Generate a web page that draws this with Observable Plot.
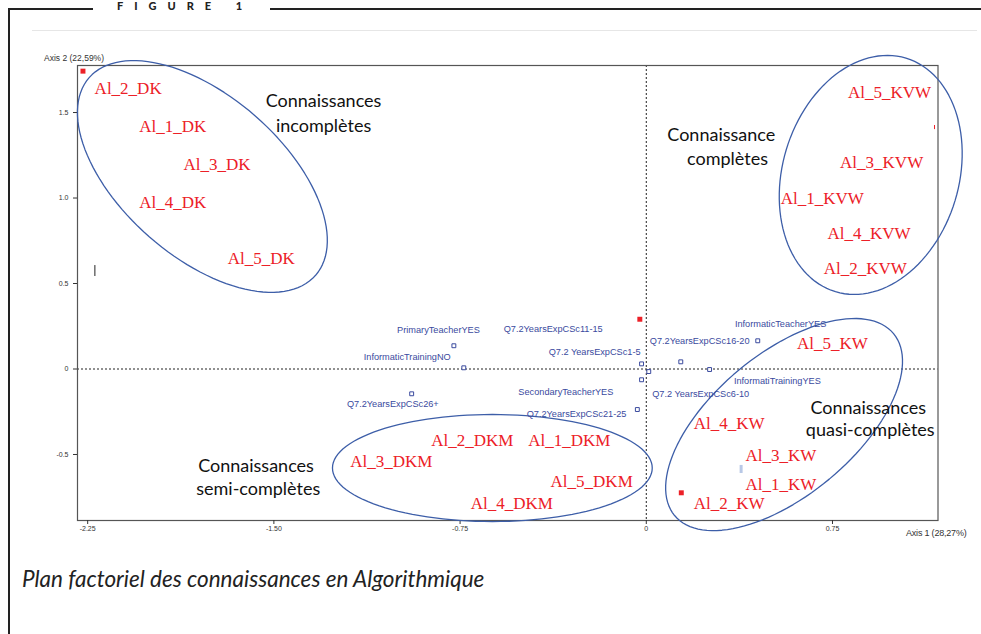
<!DOCTYPE html>
<html>
<head>
<meta charset="utf-8">
<script src="https://cdn.jsdelivr.net/npm/d3@7"></script>
<script src="https://cdn.jsdelivr.net/npm/@observablehq/plot@0.6"></script>
<style>
  body { margin: 0; background: #fff; }
  #wrap { position: relative; width: 981px; height: 634px; overflow: hidden; background: #fff; }
  #wrap svg { position: absolute; left: 0; top: 0; }
  .abs { position: absolute; white-space: nowrap; }
  #wrap g[aria-label="sup"] text { letter-spacing: -0.35px; }
</style>
</head>
<body>
<div id="wrap">
  <div class="abs" style="left:9px;top:8px;width:84px;height:1.6px;background:#222"></div>
  <div class="abs" style="left:270px;top:8px;width:711px;height:1.6px;background:#222"></div>
  <div class="abs" style="left:8px;top:8px;width:1.6px;height:626px;background:#222"></div>
  <div class="abs" style="left:32px;top:30px;width:945px;height:1px;background:#e6e6e6"></div>
  <div class="abs" style="left:117px;top:0px;font:900 11px/11px Lato, sans-serif;letter-spacing:11px;color:#222">FIGURE 1</div>
  <div class="abs" style="left:44px;top:53px;font:8.5px Arial, sans-serif;color:#333">Axis 2 (22,59%)</div>
  <div class="abs" style="left:906px;top:528px;font:9px Arial, sans-serif;color:#333;letter-spacing:-0.2px">Axis 1 (28,27%)</div>
  <div class="abs" style="left:22px;top:565px;font:italic 22.5px Lato, sans-serif;color:#222">Plan factoriel des connaissances en Algorithmique</div>
</div>
<script>
// Axis ticks
const xTicks = [-2.25, -1.5, -0.75, 0, 0.75];
const yTicks = [-0.5, 0, 0.5, 1.0, 1.5];

// Knowledge modalities (red labels)
const modNames = ["Al_2_DK","Al_1_DK","Al_3_DK","Al_4_DK","Al_5_DK",
  "Al_5_KVW","Al_3_KVW","Al_1_KVW","Al_4_KVW","Al_2_KVW",
  "Al_5_KW","Al_4_KW","Al_3_KW","Al_1_KW","Al_2_KW",
  "Al_2_DKM","Al_1_DKM","Al_3_DKM","Al_5_DKM","Al_4_DKM"];
const modX = [-2.087,-1.907,-1.729,-1.907,-1.551,
  0.980,0.948,0.709,0.897,0.882,
  0.750,0.334,0.542,0.542,0.334,
  -0.701,-0.310,-1.027,-0.220,-0.542];
const modY = [1.639,1.418,1.196,0.975,0.648,
  1.619,1.206,0.999,0.794,0.589,
  0.147,-0.320,-0.506,-0.675,-0.788,
  -0.418,-0.418,-0.539,-0.656,-0.788];

// Supplementary variables (blue labels)
const supNames = ["PrimaryTeacherYES","InformaticTrainingNO","Q7.2YearsExpCSc26+",
  "Q7.2YearsExpCSc11-15","Q7.2 YearsExpCSc1-5","SecondaryTeacherYES","Q7.2YearsExpCSc21-25",
  "Q7.2YearsExpCSc16-20","InformaticTeacherYES","InformatiTrainingYES","Q7.2 YearsExpCSc6-10"];
const supX = [-0.837,-0.963,-1.021,-0.375,-0.208,-0.324,-0.281,0.215,0.541,0.528,0.219];
const supY = [0.229,0.069,-0.204,0.235,0.102,-0.136,-0.264,0.163,0.264,-0.073,-0.149];

// Blue square markers
const markX = [-0.775,-0.735,-0.945,-0.019,0.010,-0.019,-0.036,0.139,0.255,0.449];
const markY = [0.136,0.007,-0.145,0.030,-0.015,-0.063,-0.237,0.042,-0.003,0.165];

// Red square points
const redX = [-2.269,-0.026,0.141];
const redY = [1.742,0.291,-0.724];

// Group annotations
const noteText = ["Connaissances","incomplètes","Connaissance","complètes",
  "Connaissances","quasi-complètes","Connaissances","semi-complètes"];
const noteX = [-1.300,-1.300,0.302,0.327,0.894,0.902,-1.572,-1.563];
const noteY = [1.564,1.418,1.365,1.229,-0.227,-0.360,-0.570,-0.706];

// Group ellipses: centre, first and second half-axis vectors (data units)
const ellName = ["incomplètes","complètes","quasi-complètes","semi-complètes"];
const ellCx = [-1.788,0.904,0.555,-0.620];
const ellCy = [1.126,1.135,-0.325,-0.579];
const ellAx = [0.456,0.142,0.441,0.644];
const ellAy = [-0.578,0.683,0.532,0];
const ellBx = [-0.213,0.340,0.182,0];
const ellBy = [-0.354,-0.149,-0.319,0.313];

const mods = modNames.map((n,i) => ({n, x: modX[i], y: modY[i]}));
const sups = supNames.map((n,i) => ({n, x: supX[i], y: supY[i]}));
const marks = markX.map((x,i) => ({x, y: markY[i]}));
const reds = redX.map((x,i) => ({x, y: redY[i]}));
const notes = noteText.map((t,i) => ({t, x: noteX[i], y: noteY[i]}));
const ellPts = [];
ellName.forEach((name,i) => {
  for (let a = 0; a <= 360; a += 3) {
    const r = a * Math.PI / 180;
    ellPts.push({name,
      x: ellCx[i] + ellAx[i]*Math.cos(r) + ellBx[i]*Math.sin(r),
      y: ellCy[i] + ellAy[i]*Math.cos(r) + ellBy[i]*Math.sin(r)});
  }
});

const blue = "#3a4a9e";
const red = "#ec2027";

const chart = Plot.plot({
  width: 981, height: 634,
  marginLeft: 77, marginRight: 43.5, marginTop: 65, marginBottom: 114,
  style: {background: "transparent", fontFamily: "Arial, sans-serif"},
  x: {domain: [-2.291, 1.175]},
  y: {domain: [-0.886, 1.775]},
  marks: [
    Plot.ruleX([0], {stroke: "#222", strokeDasharray: "2,2"}),
    Plot.ruleY([0], {stroke: "#222", strokeDasharray: "2,2"}),
    Plot.frame({stroke: "#555", strokeWidth: 1.2}),
    Plot.axisX({ticks: xTicks, tickFormat: d => d === 0 ? "0" : d.toFixed(2), tickSize: 4, tickPadding: 2, fontSize: 7, label: null, color: "#333"}),
    Plot.axisY({ticks: yTicks, tickFormat: d => d === 0 ? "0" : d.toFixed(1), tickSize: 4, tickPadding: 5, fontSize: 7, label: null, color: "#333"}),
    Plot.line(ellPts, {x: "x", y: "y", z: "name", stroke: "#3d5ea8", strokeWidth: 1.3}),
    Plot.ruleX([{x: -2.221, y1: 0.605, y2: 0.541}], {x: "x", y1: "y1", y2: "y2", stroke: "#222"}),
    Plot.ruleX([{x: 1.161, y1: 1.424, y2: 1.400}], {x: "x", y1: "y1", y2: "y2", stroke: red}),
    Plot.rect([{x1: 0.378, x2: 0.390, y1: -0.564, y2: -0.611}], {x1: "x1", x2: "x2", y1: "y1", y2: "y2", fill: "#b8c8e6"}),
    Plot.dot(marks, {x: "x", y: "y", symbol: "square", r: 2.2, stroke: blue, strokeWidth: 1, fill: "white"}),
    Plot.dot(reds, {x: "x", y: "y", symbol: "square", r: 2.8, fill: red, stroke: "none"}),
    Plot.text(sups, {x: "x", y: "y", text: "n", fill: blue, fontSize: 9.2, fontFamily: "Arial, sans-serif", ariaLabel: "sup"}),
    Plot.text(mods, {x: "x", y: "y", text: "n", fill: red, fontSize: 17, fontFamily: "'Liberation Serif', 'Times New Roman', serif"}),
    Plot.text(notes, {x: "x", y: "y", text: "t", fill: "#111", fontSize: 18, fontFamily: "Lato, sans-serif"})
  ]
});
document.getElementById("wrap").prepend(chart);
</script>
</body>
</html>
